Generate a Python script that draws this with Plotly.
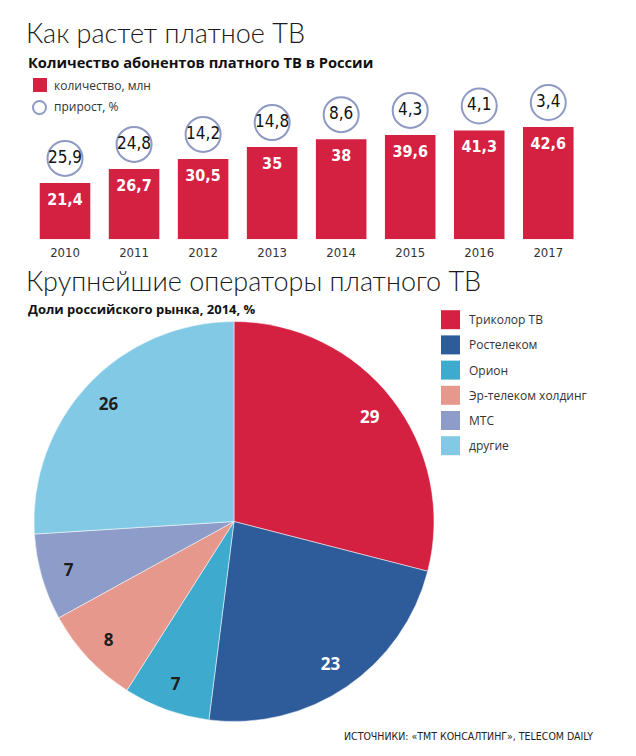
import plotly.graph_objects as go

# ---------------- data ----------------
years = ["2010", "2011", "2012", "2013", "2014", "2015", "2016", "2017"]
subscribers_mln = [21.4, 26.7, 30.5, 35, 38, 39.6, 41.3, 42.6]
growth_pct = [25.9, 24.8, 14.2, 14.8, 8.6, 4.3, 4.1, 3.4]

operators = ["Триколор ТВ", "Ростелеком", "Орион", "Эр-телеком холдинг", "МТС", "другие"]
shares_2014 = [29, 23, 7, 8, 7, 26]

# ---------------- styles ----------------
W, H = 636, 756
OFF = 8  # page body margin
RED = "#d42141"
RING = "#8e9ac4"
pie_colors = ["#d42141", "#2e5c9b", "#3eaacd", "#e6988c", "#8d9cc8", "#82c9e6"]
pie_text_colors = ["white", "white", "#1e1e1e", "#1e1e1e", "#1e1e1e", "#1e1e1e"]
NARROW = "Liberation Sans Narrow, DejaVu Sans Condensed, Arial Narrow, sans-serif"
SANS = "Open Sans, Noto Sans, sans-serif"
LIGHT = "Lato, Roboto, Open Sans, sans-serif"

CIRCLE_OFFSET = 9.3   # data units above bar top for growth circles
LABEL_OFFSET = 6.8    # data units below bar top for value labels


def fmt(v):
    return f"{v:g}".replace(".", ",")


def px(x):
    return (x - OFF) / W


def py(y):
    return 1 - (y - OFF) / H


fig = go.Figure()

# bars
fig.add_trace(go.Bar(
    x=years, y=subscribers_mln, marker=dict(color=RED, line=dict(width=0)),
    hoverinfo="x+y", showlegend=False, xaxis="x", yaxis="y",
))
# value labels on bars
fig.add_trace(go.Scatter(
    x=years, y=[v - LABEL_OFFSET for v in subscribers_mln],
    mode="text", text=[fmt(v) for v in subscribers_mln],
    textposition="middle center",
    textfont=dict(family=NARROW, size=16, color="white", weight="bold"),
    hoverinfo="skip", showlegend=False, cliponaxis=False,
))
# growth circles
fig.add_trace(go.Scatter(
    x=years, y=[v + CIRCLE_OFFSET for v in subscribers_mln],
    mode="markers+text", text=[fmt(v) for v in growth_pct],
    textposition="middle center",
    textfont=dict(family=NARROW, size=17, color="#111111"),
    marker=dict(size=35, color="white", line=dict(color=RING, width=2)),
    hoverinfo="text", showlegend=False, cliponaxis=False,
))

pie_domain = dict(x=[px(34), px(434)], y=[py(721.5), py(321.5)])
# pie slices
fig.add_trace(go.Pie(
    labels=operators, values=shares_2014, sort=False, direction="clockwise",
    rotation=0, marker=dict(colors=pie_colors, line=dict(color="white", width=0.5)),
    textinfo="none", domain=pie_domain, showlegend=False,
))
# pie value labels (transparent ring so labels sit near the rim)
fig.add_trace(go.Pie(
    labels=operators, values=shares_2014, sort=False, direction="clockwise",
    rotation=0, hole=0.72,
    marker=dict(colors=["rgba(0,0,0,0)"] * len(operators), line=dict(width=0)),
    textinfo="value", textposition="inside", insidetextorientation="horizontal",
    insidetextfont=dict(family=SANS, size=17, color=pie_text_colors, weight="bold"),
    hoverinfo="skip", domain=pie_domain, showlegend=False,
))

annotations = []
shapes = []


def ann(text, x, y, size, color="#222222", family=SANS, weight="normal", xanchor="left"):
    annotations.append(dict(
        text=text, x=px(x), y=py(y), xref="paper", yref="paper",
        xanchor=xanchor, yanchor="middle", showarrow=False,
        font=dict(family=family, size=size, color=color, weight=weight),
    ))


# titles
ann("Как растет платное ТВ", 24, 32, 27, "#1a1a1a", family=LIGHT, weight=300)
ann("Количество абонентов платного ТВ в России", 26, 62, 14.7, "#111111", weight="bold")
ann("Крупнейшие операторы платного ТВ", 24, 280, 27, "#1a1a1a", family=LIGHT, weight=300)
ann("Доли российского рынка, 2014, %", 26, 309, 13, "#111111", weight="bold")

# bar legend
shapes.append(dict(type="rect", xref="paper", yref="paper", x0=px(33), x1=px(47),
                   y0=py(78), y1=py(92), fillcolor=RED, line=dict(width=0)))
shapes.append(dict(type="circle", xref="paper", yref="paper", x0=px(33), x1=px(46),
                   y0=py(101), y1=py(114), fillcolor="white", line=dict(color=RING, width=2)))
ann("количество, млн", 52, 85, 12, "#333333")
ann("прирост, %", 52, 107, 12, "#333333")

# pie legend
for i, (name, col) in enumerate(zip(operators, pie_colors)):
    yc = 319.7 + i * 25.2
    shapes.append(dict(type="rect", xref="paper", yref="paper", x0=px(441), x1=px(460),
                       y0=py(yc - 9.5), y1=py(yc + 9.5), fillcolor=col, line=dict(width=0)))
    ann(name, 467, yc, 12, "#333333")

# source
ann("ИСТОЧНИКИ: «ТМТ КОНСАЛТИНГ», TELECOM DAILY", 595, 736, 10.5, "#222222",
    family=NARROW, xanchor="right")

fig.update_layout(
    width=W, height=H, margin=dict(l=0, r=0, t=0, b=0),
    paper_bgcolor="white", plot_bgcolor="rgba(0,0,0,0)",
    showlegend=False, bargap=0.268,
    xaxis=dict(domain=[px(30.5), px(582.8)], type="category", range=[-0.5, 7.5],
               showgrid=False, zeroline=False, showline=False,
               ticks="outside", ticklen=1, tickcolor="rgba(0,0,0,0)",
               tickfont=dict(family=NARROW, size=13, color="#333333"), fixedrange=True),
    yaxis=dict(domain=[py(239.3), py(81.2)], range=[0, 60], visible=False,
               showgrid=False, zeroline=False, fixedrange=True),
    annotations=annotations, shapes=shapes,
)

fig.write_html("out.html")
